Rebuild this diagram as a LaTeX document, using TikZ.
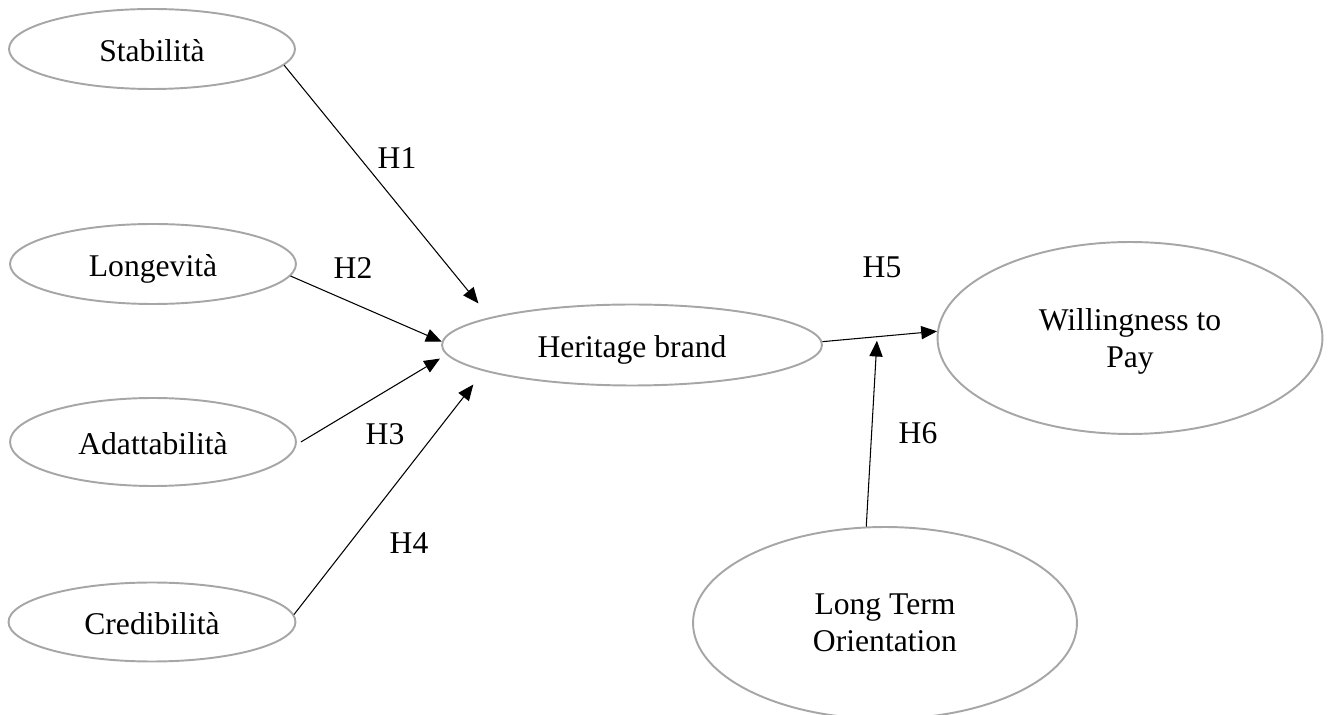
\documentclass[tikz,border=0pt]{standalone}
\usepackage{fontspec}
\setmainfont{Liberation Serif}
\usepackage{tikz}
\usetikzlibrary{positioning,shapes.geometric,arrows.meta}
\definecolor{ovalgray}{RGB}{166,166,166}

\begin{document}
\begin{tikzpicture}[x=0.02cm, y=-0.02cm,
    construct/.style={ellipse, draw=ovalgray, line width=1.1pt, inner sep=0pt,
        align=center, font=\fontsize{18}{21}\selectfont},
    oneline/.style={construct, text height=14pt, text depth=0pt},
    hyp/.style={-{Triangle[length=9pt,width=7.5pt]}, line width=0.6pt},
    lab/.style={font=\fontsize{18}{21}\selectfont}]
            \useasboundingbox (0,0) rectangle (1329,715);
            % antecedents
            \node[oneline, minimum width=5.72cm, minimum height=1.6cm] (stab) at (152,49) {Stabilità};
            \node[oneline, minimum width=5.72cm, minimum height=1.6cm] (longev) at (153,264) {Longevità};
            \node[oneline, minimum width=5.72cm, minimum height=1.76cm] (adatt) at (153,442) {Adattabilità};
            \node[oneline, minimum width=5.74cm, minimum height=1.58cm] (cred) at (152,622) {Credibilità};
            % mediator, outcome, moderator
            \node[oneline, minimum width=7.6cm, minimum height=1.62cm] (herit) at (632,345) {Heritage brand};
            \node[construct, text depth=0pt, minimum width=7.7cm, minimum height=3.84cm] (wtp) at (1130,338) {Willingness to\\Pay};
            \node[construct, minimum width=7.68cm, minimum height=3.84cm] (lto) at (885,623) {Long Term\\Orientation};
            % paths
            \draw[hyp, shorten >=0.36cm] (stab.-7.5) -- (herit.169);
            \draw[hyp] (longev.-5) -- (herit.179);
            \draw[hyp, shorten <=0.1cm, shorten >=0.15cm] (adatt.-1) -- (herit.183);
            \draw[hyp, shorten >=0.34cm] (cred.3.6) -- (herit.190.7);
            \draw[hyp] (herit.1) -- (wtp.178.5) coordinate[pos=0.478] (mod);
            \draw[hyp, shorten >=0.08cm] (lto.101.2) -- (mod);
            % labels
            \node[lab] (h1) at (397,158) {H1};
            \node[lab] (h2) at (353,268) {H2};
            \node[lab] (h3) at (385,434) {H3};
            \node[lab] (h4) at (409,543) {H4};
            \node[lab] (h5) at (882,267) {H5};
            \node[lab] (h6) at (918,433) {H6};
        \end{tikzpicture}
\end{document}
